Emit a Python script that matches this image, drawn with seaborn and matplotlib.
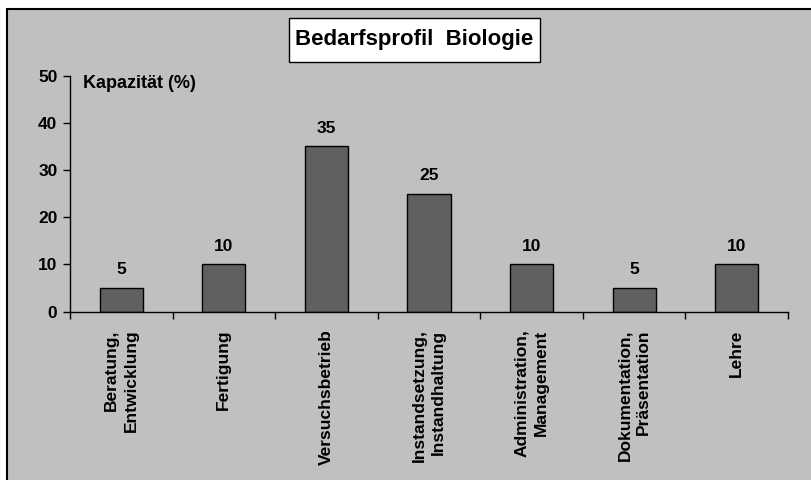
import numpy as np
import pandas as pd
import seaborn as sns
import matplotlib.pyplot as plt
from matplotlib.patches import Rectangle

# Data
categories = ["Beratung,\nEntwicklung", "Fertigung", "Versuchsbetrieb",
              "Instandsetzung,\nInstandhaltung", "Administration,\nManagement",
              "Dokumentation,\nPräsentation", "Lehre"]
values = [5, 10, 35, 25, 10, 5, 10]
y_ticks = [0, 10, 20, 30, 40, 50]
title = "Bedarfsprofil  Biologie"
y_label = "Kapazität (%)"

sns.set_style("white")
plt.rcParams['font.family'] = ['Liberation Sans', 'DejaVu Sans']
plt.rcParams['font.weight'] = 'bold'
plt.rcParams['text.color'] = 'black'
plt.rcParams['xtick.color'] = 'black'
plt.rcParams['ytick.color'] = 'black'

df = pd.DataFrame({'cat': categories, 'val': values})

fig = plt.figure(figsize=(8.11, 4.8), dpi=100)
fig.patch.set_facecolor('white')

# grey chart area with border on left/top
fig.patches.append(Rectangle((7 / 811, -0.05), 1.1, 471 / 480 + 0.05,
                             transform=fig.transFigure, facecolor='#c0c0c0',
                             edgecolor='black', linewidth=1.5, zorder=-1))

ax = fig.add_axes([70 / 811, (480 - 311.5) / 480, 718 / 811, 236 / 480])
ax.set_facecolor('none')

sns.barplot(data=df, x='cat', y='val', ax=ax, color='#606060', saturation=1,
            edgecolor='black', linewidth=1, width=0.42)

ax.set_ylim(0, 50)
ax.set_xlim(-0.5, len(categories) - 0.5)
ax.set_yticks(y_ticks)
ax.set_yticklabels([str(t) for t in y_ticks], fontsize=12.5, fontweight='bold')
ax.tick_params(axis='y', direction='out', length=5, width=1, color='black', pad=4, left=True)

# major ticks at category boundaries, labels on minor ticks at centres
ax.set_xticks(np.arange(-0.5, len(categories)))
ax.set_xticklabels([])
ax.tick_params(axis='x', which='major', direction='out', length=5, width=1, color='black', bottom=True)
ax.set_xticks(np.arange(len(categories)), minor=True)
ax.set_xticklabels(categories, minor=True, rotation=90, fontsize=12.5,
                   fontweight='bold', va='top', ha='center', multialignment='right',
                   linespacing=1.35)
ax.tick_params(axis='x', which='minor', length=0, pad=13)
ax.set_xlabel('')
ax.set_ylabel('')

sns.despine(ax=ax)
for s in ['left', 'bottom']:
    ax.spines[s].set_color('black')
    ax.spines[s].set_linewidth(1)

# value labels
for i, v in enumerate(values):
    ax.annotate(str(v), (i, v), xytext=(0, 7.5), textcoords='offset points',
                ha='center', va='bottom', fontsize=12.5, fontweight='bold')

ax.text(0.018, 0.968, y_label, transform=ax.transAxes, fontsize=13,
        fontweight='bold', va='center', ha='left')

# title box
fig.patches.append(Rectangle((289 / 811, (480 - 62) / 480), 251 / 811, 44 / 480,
                             transform=fig.transFigure, facecolor='white',
                             edgecolor='black', linewidth=1, zorder=1))
fig.text(414.5 / 811, (480 - 40) / 480, title, fontsize=16, fontweight='bold',
         ha='center', va='center', zorder=2)

fig.savefig('out.png', dpi=100)
